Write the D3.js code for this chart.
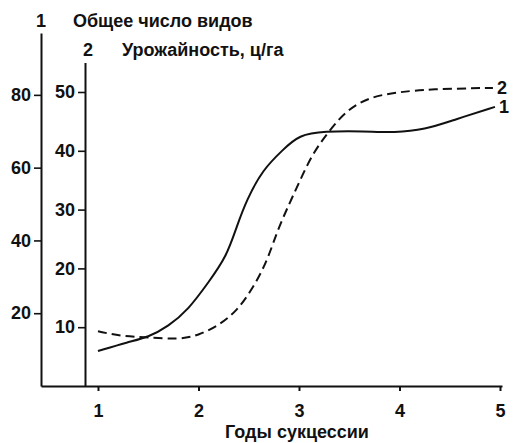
<!DOCTYPE html>
<html>
<head>
<meta charset="utf-8">
<script src="https://cdn.jsdelivr.net/npm/d3@7"></script>
<style>
  body { margin: 0; background: #fff; }
  svg text { font-family: "Liberation Sans", Arial, sans-serif; font-weight: bold; fill: #111; }
</style>
</head>
<body>
<script>
// Данные
const years = [1, 2, 3, 4, 5]
const ticksSpecies = [20, 40, 60, 80]
const ticksYield = [10, 20, 30, 40, 50]

// кривая 1 — общее число видов
const speciesX = [1.0, 1.3, 1.5, 1.7, 1.9, 2.1, 2.28, 2.38, 2.48, 2.64, 2.84, 3.0, 3.25, 3.65, 3.95, 4.25, 4.55, 4.95]
const speciesY = [9.6, 12.1, 13.4, 16.4, 21, 28.5, 35.6, 43.8, 51.2, 59.5, 64.9, 69, 70, 70, 69.6, 70.4, 73.2, 76.7]

// кривая 2 — урожайность, ц/га
const yieldX = [1.0, 1.25, 1.5, 1.8, 2.0, 2.2, 2.38, 2.54, 2.68, 2.78, 2.88, 3.0, 3.14, 3.31, 3.48, 3.71, 4.0, 4.3, 4.93]
const yieldY = [9.3, 8.4, 8.3, 7.9, 8.6, 10.3, 12.7, 16.6, 21.1, 26.2, 30.1, 34.6, 39.7, 43.6, 47.0, 49.2, 50.0, 50.5, 50.7]

const W = 513, H = 443
const fs = "18px"

let svg = d3.select("body")
        .append("svg")
        .attr("width", W)
        .attr("height", H)

// Шкалы
let x = d3.scaleLinear().domain([0.433, 5.02]).range([41, 502])
let y1 = d3.scaleLinear().domain([0, 97]).range([386, 33])
let y2 = d3.scaleLinear().domain([0, 55]).range([386, 62.6])

const ink = "#111"

// Ось X
let gx = svg.append("g")
        .attr("transform", "translate(0,386)")
        .call(d3.axisBottom(x).tickValues(years).tickSize(5).tickSizeOuter(0).tickPadding(13).tickFormat(d3.format("d")))
gx.select(".domain").attr("stroke", ink).attr("stroke-width", 2)
gx.selectAll(".tick line").attr("stroke", ink).attr("stroke-width", 2)
gx.selectAll(".tick text").style("font-size", fs)

// Ось 1
let g1 = svg.append("g")
        .attr("transform", "translate(41,0)")
        .call(d3.axisLeft(y1).tickValues(ticksSpecies).tickSize(7).tickSizeOuter(0).tickPadding(3))
g1.select(".domain").attr("stroke", ink).attr("stroke-width", 2)
g1.selectAll(".tick line").attr("stroke", ink).attr("stroke-width", 1.6)
g1.selectAll(".tick text").style("font-size", fs)

// Ось 2
let g2 = svg.append("g")
        .attr("transform", "translate(85,0)")
        .call(d3.axisLeft(y2).tickValues(ticksYield).tickSize(7).tickSizeOuter(0).tickPadding(3))
g2.select(".domain").attr("stroke", ink).attr("stroke-width", 2)
g2.selectAll(".tick line").attr("stroke", ink).attr("stroke-width", 1.6)
g2.selectAll(".tick text").style("font-size", fs)

// Кривые (сглаженные)
let line1 = d3.line()
        .x(i => x(speciesX[i]))
        .y(i => y1(speciesY[i]))
        .curve(d3.curveBasis)

let line2 = d3.line()
        .x(i => x(yieldX[i]))
        .y(i => y2(yieldY[i]))
        .curve(d3.curveBasis)

svg.append("path")
        .attr("d", line1(d3.range(speciesX.length)))
        .attr("fill", "none")
        .attr("stroke", ink)
        .attr("stroke-width", 2)

svg.append("path")
        .attr("d", line2(d3.range(yieldX.length)))
        .attr("fill", "none")
        .attr("stroke", ink)
        .attr("stroke-width", 2)
        .attr("stroke-dasharray", "9,5")

// Подписи кривых
let last1 = speciesX.length - 1, last2 = yieldX.length - 1
svg.append("text")
        .attr("x", x(speciesX[last1]) + 4)
        .attr("y", y1(speciesY[last1]) + 6)
        .style("font-size", fs)
        .text("1")
svg.append("text")
        .attr("x", x(yieldX[last2]) + 4)
        .attr("y", y2(yieldY[last2]) + 6)
        .style("font-size", fs)
        .text("2")

// Заголовки осей
svg.append("text").attr("x", 41).attr("y", 27).attr("text-anchor", "middle").style("font-size", fs).text("1")
svg.append("text").attr("x", 73).attr("y", 27).style("font-size", fs).text("Общее число видов")
svg.append("text").attr("x", 88).attr("y", 56).attr("text-anchor", "middle").style("font-size", fs).text("2")
svg.append("text").attr("x", 122).attr("y", 56).style("font-size", fs).text("Урожайность, ц/га")

svg.append("text")
        .attr("x", 297)
        .attr("y", 438)
        .attr("text-anchor", "middle")
        .style("font-size", fs)
        .text("Годы сукцессии")
</script>
</body>
</html>
